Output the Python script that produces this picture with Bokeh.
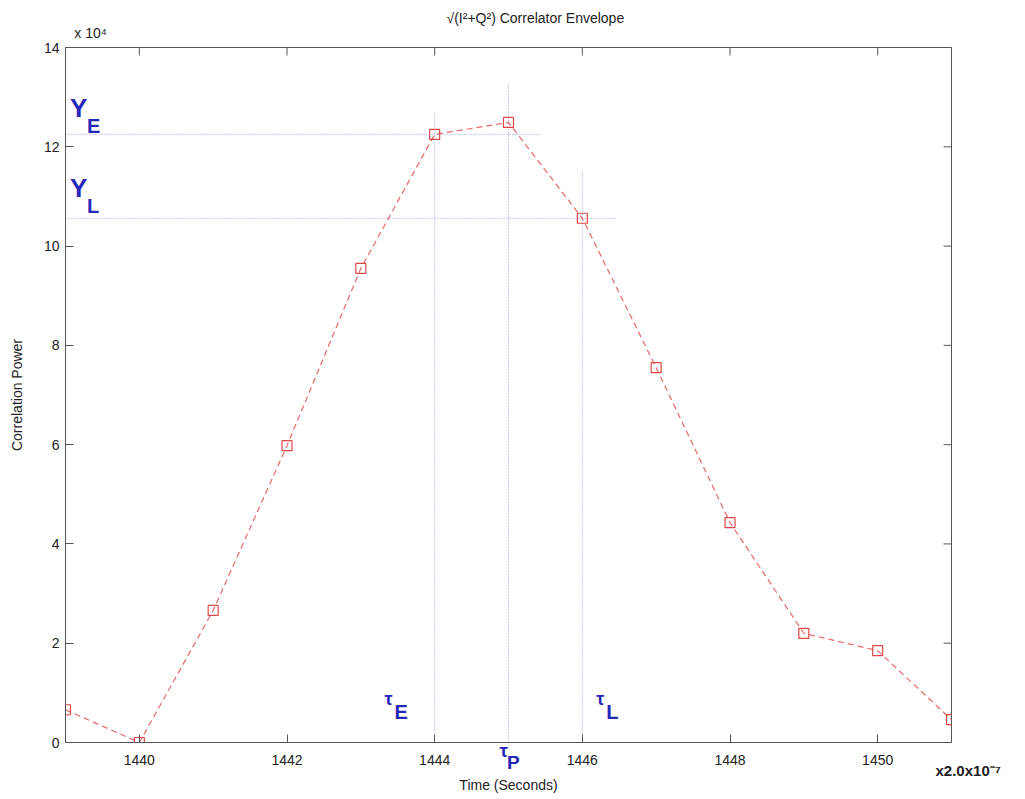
import math
from bokeh.plotting import figure
from bokeh.models import Label, FixedTicker, Range1d, Title, LinearAxis
from bokeh.embed import file_html
from bokeh.resources import INLINE

# Data (correlation power in units of 1e4)
time_idx = [1439, 1440, 1441, 1442, 1443, 1444, 1445, 1446, 1447, 1448, 1449, 1450, 1451]
power = [0.66, 0.0, 2.66, 5.98, 9.55, 12.25, 12.49, 10.56, 7.55, 4.43, 2.20, 1.85, 0.46]

x_ticks = [1440, 1442, 1444, 1446, 1448, 1450]
y_ticks = [0, 2, 4, 6, 8, 10, 12, 14]

# Early / prompt / late markers
tau_e, tau_p, tau_l = 1444, 1445, 1446
tau_e_top, tau_p_top, tau_l_top = 12.67, 13.28, 11.5
y_e, y_l = 12.25, 10.56
y_e_end, y_l_end = 1445.45, 1446.45

X0, X1, Y0, Y1 = 1439, 1451, 0, 14
EXP_NOTE_X = 1439.34          # where the "x 10^4" note sits along the top edge
FONT = "Liberation Sans"
BLUE = "#2626b8"
DOT = "#8c8cf0"
AX = "#555555"
TXT = "#222222"

p = figure(width=1025, height=799, output_backend="svg", toolbar_location=None,
           x_range=Range1d(X0, X1), y_range=Range1d(Y0, Y1),
           min_border_left=65, min_border_right=74, min_border_top=47, min_border_bottom=57,
           title="√(I²+Q²) Correlator Envelope")
p.title.align = "left"
p.title.offset = 381
p.title.text_font = FONT
p.title.text_font_size = "14px"
p.title.text_font_style = "normal"
p.title.text_color = TXT
p.title.standoff = -8
p.xgrid.visible = False
p.ygrid.visible = False
p.outline_line_color = AX
p.outline_line_width = 1
p.background_fill_color = "white"
p.border_fill_color = "white"

# Axes
for ax in (p.xaxis[0], p.yaxis[0]):
    ax.major_tick_in = 8
    ax.major_tick_out = 0
    ax.minor_tick_in = 0
    ax.minor_tick_out = 0
    ax.axis_line_color = AX
    ax.major_tick_line_color = AX
    ax.major_label_text_font = FONT
    ax.major_label_text_font_size = "14px"
    ax.major_label_text_color = TXT
p.xaxis[0].ticker = FixedTicker(ticks=x_ticks)
p.yaxis[0].ticker = FixedTicker(ticks=y_ticks)
p.yaxis[0].axis_label = "Correlation Power"
p.yaxis[0].axis_label_text_font = FONT
p.yaxis[0].axis_label_text_font_size = "14px"
p.yaxis[0].axis_label_text_font_style = "normal"
p.yaxis[0].axis_label_text_color = TXT
p.yaxis[0].major_label_standoff = 6
p.yaxis[0].axis_label_standoff = 16

# The x axis label is the prompt marker tau_P, centred at 1445 just under the axis
p.xaxis[0].major_label_standoff = 12
p.xaxis[0].axis_label = "τ\u2002\n\u2002P"
p.xaxis[0].axis_label_text_font = FONT
p.xaxis[0].axis_label_text_font_size = "19px"
p.xaxis[0].axis_label_text_font_style = "bold"
p.xaxis[0].axis_label_text_color = BLUE
p.xaxis[0].axis_label_text_line_height = 0.6
p.xaxis[0].axis_label_standoff = -28

# "x 10^4" exponent note just above the top-left corner
top_note = LinearAxis(ticker=FixedTicker(ticks=[EXP_NOTE_X]),
                      major_label_overrides={EXP_NOTE_X: "x 10⁴"},
                      major_tick_in=0, major_tick_out=0, minor_tick_in=0, minor_tick_out=0,
                      axis_line_color=None, major_tick_line_color=None,
                      major_label_standoff=7, major_label_text_font=FONT,
                      major_label_text_font_size="14px", major_label_text_color=TXT)
p.add_layout(top_note, "above")

# "x2.0x10^-7" exponent note at the bottom-right corner (last of four lines, centred on y=0)
right_note = LinearAxis(ticker=FixedTicker(ticks=[Y0]),
                        major_label_overrides={Y0: "\n\n\nx2.0x10⁻⁷"},
                        major_tick_in=0, major_tick_out=0, minor_tick_in=0, minor_tick_out=0,
                        axis_line_color=None, major_tick_line_color=None,
                        major_label_standoff=-16, major_label_text_font=FONT,
                        major_label_text_font_size="15px", major_label_text_font_style="bold",
                        major_label_text_color=TXT, major_label_text_line_height=1.1)
p.add_layout(right_note, "right")

# Axis title under the tau_P label
p.add_layout(Title(text="Time (Seconds)", align="center", standoff=-4, text_font=FONT,
                   text_font_size="14px", text_font_style="normal", text_color=TXT), "below")

# Mirror ticks on the top and right edges of the box (half of each dash is clipped away)
p.scatter(x=x_ticks, y=[Y1] * len(x_ticks), marker="dash", angle=math.pi / 2, size=16,
          line_color=AX, line_width=1)
p.scatter(x=[X1] * len(y_ticks), y=y_ticks, marker="dash", size=16, line_color=AX, line_width=1)

# Dotted reference lines
p.segment(x0=[tau_e, tau_p, tau_l], y0=[Y0] * 3, x1=[tau_e, tau_p, tau_l],
          y1=[tau_e_top, tau_p_top, tau_l_top], line_color=DOT, line_dash="1 2", line_width=1)
p.segment(x0=[X0, X0], y0=[y_e, y_l], x1=[y_e_end, y_l_end], y1=[y_e, y_l],
          line_color=DOT, line_dash="1 2", line_width=1)

# Envelope
p.line(time_idx, power, line_color="#e86868", line_dash="6 4", line_width=1.2)
p.scatter(time_idx, power, marker="square", size=10, fill_color=None,
          line_color="#e04848", line_width=1.2)

def lab(x, y, text, size):
    p.add_layout(Label(x=x, y=y, text=text, text_font=FONT, text_font_size=size,
                       text_font_style="bold", text_color=BLUE,
                       text_align="left", text_baseline="middle"))

# Y_E / Y_L labels
lab(1439.06, 12.78, "Y", "26px")
lab(1439.29, 12.41, "E", "20px")
lab(1439.06, 11.17, "Y", "26px")
lab(1439.29, 10.80, "L", "20px")

# tau_E / tau_L labels
lab(1443.32, 0.87, "τ", "18px")
lab(1443.455, 0.61, "E", "20px")
lab(1446.19, 0.87, "τ", "18px")
lab(1446.325, 0.61, "L", "20px")

open("out.html", "w").write(file_html(p, INLINE))
